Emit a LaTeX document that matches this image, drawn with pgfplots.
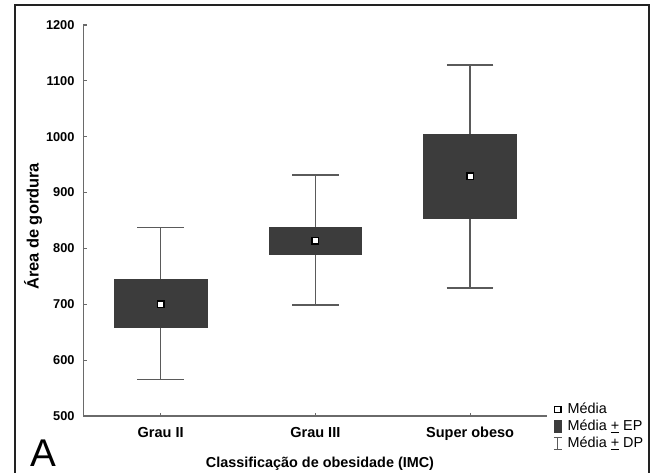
\documentclass[border=0pt]{standalone}
\usepackage{fontspec}
\setmainfont{Liberation Sans}
\usepackage{pgfplots}
\pgfplotsset{compat=1.18}
\usepgfplotslibrary{statistics}
\definecolor{boxgray}{HTML}{3C3C3C}
\definecolor{whiskergray}{HTML}{5A5A5A}
\definecolor{axisgray}{HTML}{6A6A6A}
\definecolor{framegray}{HTML}{222222}
\begin{document}
\begin{tikzpicture}
\useasboundingbox (0pt,0pt) rectangle (489pt,354.75pt);
\draw[framegray, line width=1.5pt] (11.25pt,-3pt) -- (11.25pt,351pt) -- (486.75pt,351pt) -- (486.75pt,-3pt);
\node[anchor=south west, inner sep=0pt, font=\fontsize{29}{30}\selectfont] at (23pt,4.5pt) {A};
\begin{axis}[
  at={(62.4pt,42.75pt)}, anchor=south west,
  scale only axis, width=348.2pt, height=293.25pt,
  xmin=-0.5, xmax=2.5, ymin=500, ymax=1200,
  axis x line*=bottom, axis y line*=left,
  axis line style={axisgray, line width=0.9pt, -},
  tick align=inside, major tick length=2.5pt,
  tick style={axisgray, line width=0.8pt},
  xtick={0,1,2}, xticklabels={Grau II, Grau III, Super obeso},
  ytick={500,600,...,1200},
  /pgf/number format/assume math mode=true,
  /pgf/number format/1000 sep={},
  yticklabel style={font=\bfseries\fontsize{9.6}{10}\selectfont, xshift=-3pt},
  xticklabel style={font=\bfseries\fontsize{10.9}{12}\selectfont, yshift=-5pt},
  xlabel={Classificação de obesidade (IMC)},
  ylabel={Área de gordura},
  xlabel style={font=\bfseries\fontsize{10.8}{12}\selectfont, at={(axis description cs:0.51,-0.123)}, anchor=center},
  ylabel style={font=\bfseries\fontsize{12.3}{13}\selectfont, at={(axis description cs:-0.108,0.485)}, anchor=center},
  boxplot/draw direction=y,
  boxplot/draw/median/.code={},
  boxplot/every whisker/.style={draw=whiskergray, line width=1.2pt},
  boxplot/every box/.style={draw=boxgray, fill=boxgray, line width=0.5pt},
  legend style={at={(axis description cs:1.012,0.037)}, anchor=north west, draw=none, fill=none,
    font=\fontsize{10.8}{11.5}\selectfont, row sep=1.1pt, inner sep=0pt, nodes={inner sep=1.1pt}},
  legend cell align=left,
  clip=false,
]
\addlegendimage{legend image code/.code={\draw[black,line width=1.1pt,fill=white] (0.4pt,-2.3pt) rectangle (5pt,2.3pt);}}
\addlegendentry{\hspace{3pt}Média}
\addlegendimage{legend image code/.code={\fill[boxgray] (0pt,-4.6pt) rectangle (5.4pt,4.6pt);}}
\addlegendentry{\hspace{3pt}Média \underline{+} EP}
\addlegendimage{legend image code/.code={\draw[whiskergray,line width=0.8pt] (2.7pt,-4.6pt)--(2.7pt,4.6pt) (-0.2pt,-4.6pt)--(5.6pt,-4.6pt) (-0.2pt,4.6pt)--(5.6pt,4.6pt);}}
\addlegendentry{\hspace{3pt}Média \underline{+} DP}

\addplot[boxplot prepared={draw position=0, lower whisker=565.6, lower quartile=658.7, median=700.4, upper quartile=744.5, upper whisker=837.6, box extend=0.6, whisker extend=0.3}, draw=boxgray, fill=boxgray] coordinates {};
\addplot[boxplot prepared={draw position=1, lower whisker=698.6, lower quartile=789.8, median=813.6, upper quartile=838.6, upper whisker=931.0, box extend=0.6, whisker extend=0.3}, draw=boxgray, fill=boxgray] coordinates {};
\addplot[boxplot prepared={draw position=2, lower whisker=729.5, lower quartile=853.7, median=929.3, upper quartile=1004.5, upper whisker=1128.0, box extend=0.6, whisker extend=0.3}, draw=boxgray, fill=boxgray] coordinates {};

\addplot[only marks, mark=square*, mark size=2.4pt, mark options={fill=white, draw=black, line width=1.1pt}] table {
x y
0 700.4
1 813.6
2 929.3
};
\end{axis}
\end{tikzpicture}
\end{document}
